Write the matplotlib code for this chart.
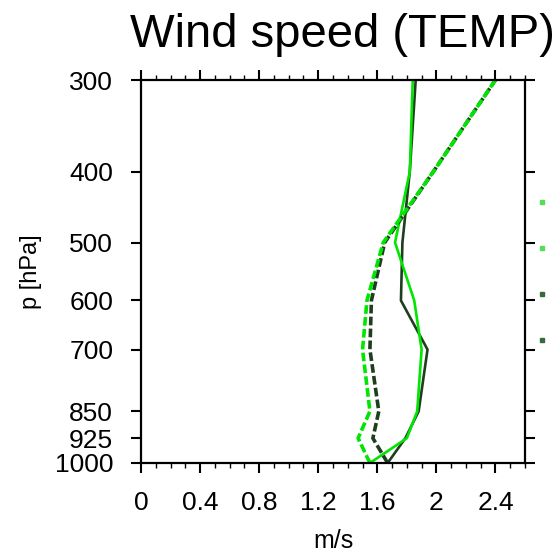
import matplotlib
matplotlib.use("Agg")
import matplotlib.pyplot as plt
from matplotlib.ticker import FixedLocator, MultipleLocator, NullFormatter, NullLocator
from matplotlib.lines import Line2D

plt.rcParams["font.family"] = ["Liberation Sans", "DejaVu Sans"]

# pressure levels (hPa) and wind speed profiles (m/s)
pressure = [1000, 925, 850, 700, 600, 500, 400, 300]
run_a_solid = [1.67, 1.79, 1.88, 1.94, 1.76, 1.77, 1.82, 1.86]    # dark, solid
run_b_solid = [1.55, 1.80, 1.87, 1.90, 1.85, 1.72, 1.82, 1.84]    # bright, solid
run_a_dashed = [1.67, 1.57, 1.61, 1.55, 1.56, 1.65, 1.98, 2.40]   # dark, dashed
run_b_dashed = [1.55, 1.47, 1.55, 1.50, 1.53, 1.64, 1.98, 2.40]   # bright, dashed

p_ticks = [300, 400, 500, 600, 700, 850, 925, 1000]
x_ticks = [0, 0.4, 0.8, 1.2, 1.6, 2.0, 2.4]
x_labels = ["0", "0.4", "0.8", "1.2", "1.6", "2", "2.4"]

DARK = "#1e3f1e"
BRIGHT = "#00e600"

fig = plt.figure(figsize=(5.6, 5.56), dpi=100)
ax = fig.add_axes([141 / 560, 1 - 463 / 556, 384 / 560, 383 / 556])

ax.plot(run_a_solid, pressure, color=DARK, lw=1.9)
ax.plot(run_b_solid, pressure, color=BRIGHT, lw=1.9)
ax.plot(run_a_dashed, pressure, color=DARK, lw=2.6, ls=(0, (2.4, 0.9)))
ax.plot(run_b_dashed, pressure, color=BRIGHT, lw=2.6, ls=(0, (2.4, 0.9)))

ax.set_yscale("log")
ax.set_ylim(1000, 300)
ax.set_xlim(0, 2.6)

ax.yaxis.set_major_locator(FixedLocator(p_ticks))
ax.yaxis.set_minor_locator(NullLocator())
ax.set_yticklabels([str(p) for p in p_ticks])
ax.yaxis.set_minor_formatter(NullFormatter())

ax.set_xticks(x_ticks)
ax.set_xticklabels(x_labels)
ax.xaxis.set_minor_locator(MultipleLocator(0.1))

for s in ax.spines.values():
    s.set_linewidth(1.6)

ax.tick_params(which="major", direction="out", length=7, width=1.5,
               labelsize=19, pad=13, top=True, right=True)
ax.tick_params(which="minor", direction="out", length=3.5, width=1.0,
               top=True, right=True)

ax.set_ylabel("p [hPa]", fontsize=17, labelpad=9)
ax.set_xlabel("m/s", fontsize=18, labelpad=10)

fig.text(342 / 560, 1 - 47 / 556, "Wind speed (TEMP)", fontsize=34,
         ha="center", va="baseline")

# legend cut off by the right figure edge (only the handle starts show)
handles = [
    Line2D([], [], color="#55dd55", marker="s", ms=2.5, ls="none"),
    Line2D([], [], color="#55dd55", marker="s", ms=2.5, ls="none"),
    Line2D([], [], color="#3a6a3a", marker="s", ms=2.5, ls="none"),
    Line2D([], [], color="#3a6a3a", marker="s", ms=2.5, ls="none"),
]
fig.legend(handles, ["", "", "", ""], loc="upper left",
           bbox_to_anchor=(538 / 560, 1 - 196 / 556), frameon=False,
           fontsize=10, handlelength=0.6, handletextpad=2.0,
           labelspacing=2.3, borderpad=0, borderaxespad=0)

fig.savefig("out.png", dpi=100)
